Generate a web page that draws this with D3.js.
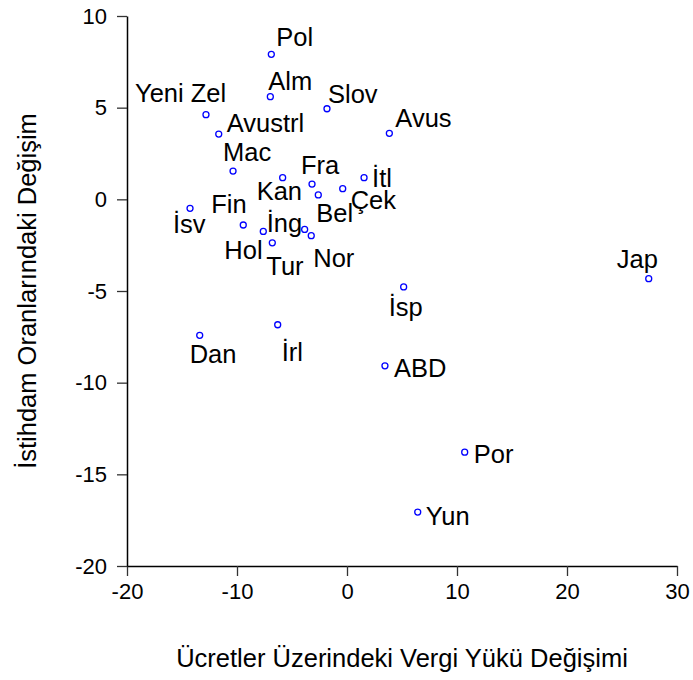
<!DOCTYPE html>
<html>
<head>
<meta charset="utf-8">
<script src="https://cdn.jsdelivr.net/npm/d3@7"></script>
<style>
  body { margin: 0; background: #fff; }
  text { font-family: Arial, "Liberation Sans", sans-serif; fill: #000; }
</style>
</head>
<body>
<svg id="chart"></svg>
<script>
// country codes (Turkish abbreviations)
var countries = ["Pol", "Alm", "Yeni Zel", "Avustrl", "Slov", "Avus", "Mac", "Kan", "Fra", "Bel",
	"Çek", "İtl", "İsv", "Fin", "İng", "Hol", "Tur", "Nor", "Dan", "İrl", "ABD", "İsp", "Jap", "Por", "Yun"];
// change in tax wedge on wages
var taxChange = [-6.88, -6.97, -12.82, -11.66, -1.82, 3.85, -10.36, -5.85, -3.18, -2.61,
	-0.39, 1.55, -14.27, -9.43, -3.85, -7.61, -6.79, -3.25, -13.39, -6.3, 3.45, 5.15, 27.43, 10.7, 6.43];
// change in employment rate
var empChange = [7.91, 5.60, 4.62, 3.56, 4.94, 3.60, 1.54, 1.18, 0.83, 0.24,
	0.58, 1.18, -0.49, -1.40, -1.64, -1.75, -2.37, -1.98, -7.42, -6.84, -9.08, -4.78, -4.33, -13.79, -17.06];
var xTicks = [-20, -10, 0, 10, 20, 30];
var yTicks = [10, 5, 0, -5, -10, -15, -20];

// label offsets from the point (px), like the original layout
var labelOffset = {
	"Pol": [5, -8], "Alm": [-2, -7], "Yeni Zel": [-71, -13], "Avustrl": [8, -2], "Slov": [1, -6],
	"Avus": [6, -6], "Mac": [-10, -10], "Kan": [-26, 22], "Fra": [-11, -10], "Bel": [-2, 27],
	"Çek": [8, 20], "İtl": [8, 9], "İsv": [-17, 25], "Fin": [-32, -12], "İng": [-38, 3],
	"Hol": [-39, 28], "Tur": [-6, 32], "Nor": [2, 31], "Dan": [-10, 28], "İrl": [4, 36],
	"ABD": [9, 11], "İsp": [-15, 29], "Jap": [-32, -11], "Por": [9, 11], "Yun": [8, 13]
};

var width = 693, height = 680;
var mLeft = 127, mRight = 677, mTop = 16, mBottom = 566;

var svg = d3.select("#chart").attr("width", width).attr("height", height);

var x = d3.scaleLinear().domain([-20, 30]).range([mLeft, mRight]);
var y = d3.scaleLinear().domain([-20, 10]).range([mBottom, mTop]);

var data = countries.map(function(c, i) { return { name: c, x: taxChange[i], y: empChange[i] }; });

var fmt = function(d) { return String(d); };

var xAxis = svg.append("g")
	.attr("transform", "translate(0," + mBottom + ")")
	.call(d3.axisBottom(x).tickValues(xTicks).tickFormat(fmt).tickSize(10).tickPadding(7).tickSizeOuter(0));
var yAxis = svg.append("g")
	.attr("transform", "translate(" + mLeft + ",0)")
	.call(d3.axisLeft(y).tickValues(yTicks).tickFormat(fmt).tickSize(10).tickPadding(10).tickSizeOuter(0));

[xAxis, yAxis].forEach(function(a) {
	a.select(".domain").attr("stroke", "#000").attr("stroke-width", 1.5);
	a.selectAll(".tick line").attr("stroke", "#333").attr("stroke-width", 1.3);
	a.selectAll(".tick text").style("font-size", "22px").attr("fill", "#000")
		.style("font-family", "Arial, 'Liberation Sans', sans-serif");
});

svg.append("g").selectAll("circle")
	.data(data)
	.enter().append("circle")
	.attr("cx", function(d) { return x(d.x); })
	.attr("cy", function(d) { return y(d.y); })
	.attr("r", 3)
	.attr("fill", "none")
	.attr("stroke", "#0000ff")
	.attr("stroke-width", 1.3);

svg.append("g").selectAll("text")
	.data(data)
	.enter().append("text")
	.attr("x", function(d) { return x(d.x) + labelOffset[d.name][0]; })
	.attr("y", function(d) { return y(d.y) + labelOffset[d.name][1]; })
	.style("font-size", "25.5px")
	.text(function(d) { return d.name; });

svg.append("text")
	.attr("x", (mLeft + mRight) / 2)
	.attr("y", 667)
	.attr("text-anchor", "middle")
	.style("font-size", "25.5px")
	.text("Ücretler Üzerindeki Vergi Yükü Değişimi");

svg.append("text")
	.attr("transform", "translate(36," + (mTop + mBottom) / 2 + ") rotate(-90)")
	.attr("text-anchor", "middle")
	.style("font-size", "25.5px")
	.text("İstihdam Oranlarındaki Değişim");
</script>
</body>
</html>
